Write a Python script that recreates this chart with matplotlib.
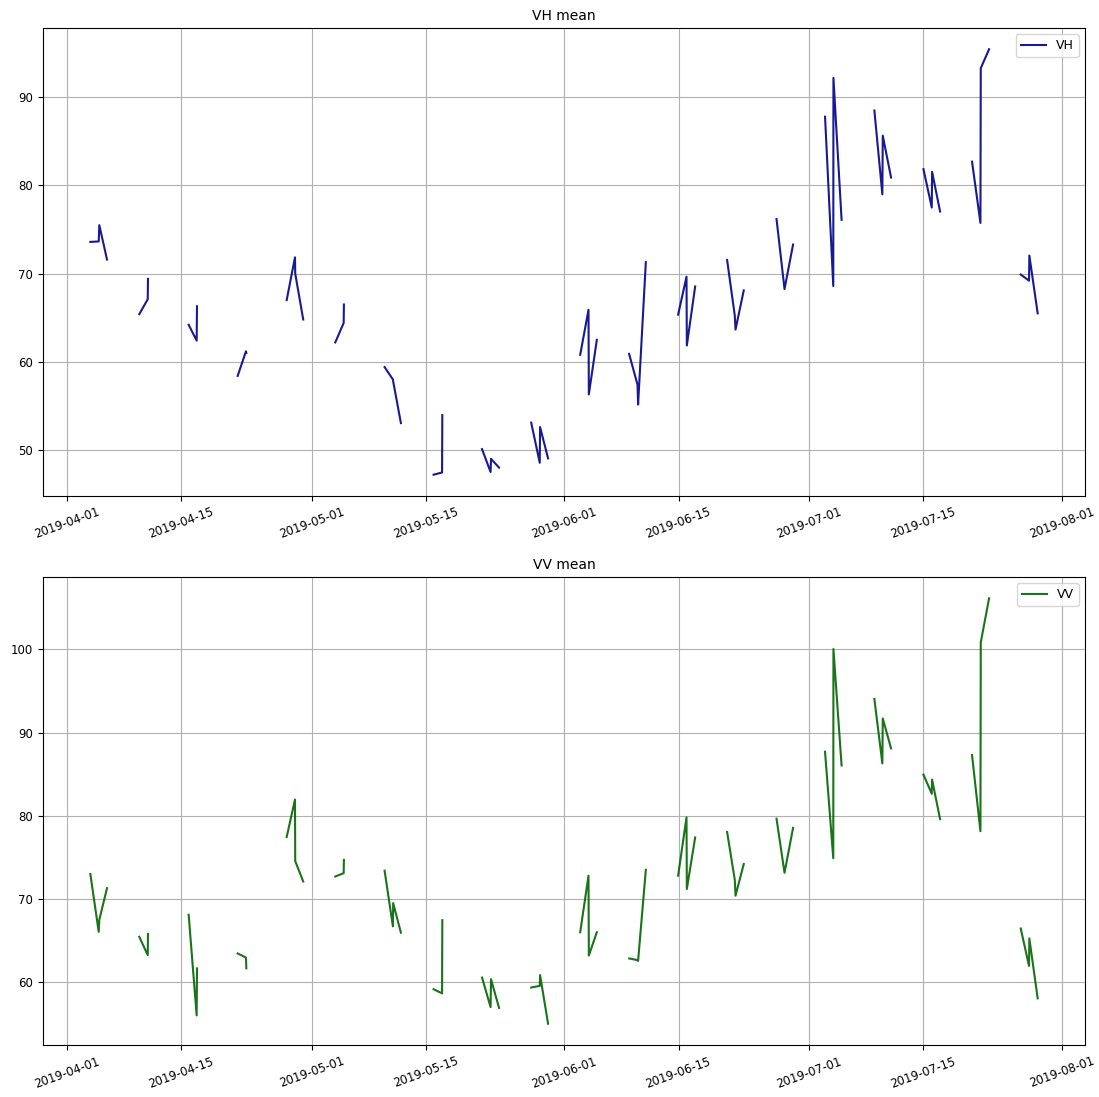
import numpy as np
import pandas as pd
import matplotlib
matplotlib.use('Agg')
import matplotlib.pyplot as plt
import matplotlib.dates as mdates

nan = np.nan

# acquisition times, NaN rows mark gaps between the acquisition bursts
times = [
    '2019-04-03 20:38', '2019-04-04 21:17', '2019-04-04 23:02', '2019-04-05 21:43', '2019-04-07',
    '2019-04-09 20:40', '2019-04-10 21:36', '2019-04-10 22:19', '2019-04-13',
    '2019-04-15 22:05', '2019-04-16 21:36', '2019-04-16 22:34', '2019-04-19',
    '2019-04-21 22:19', '2019-04-22 22:48', '2019-04-22 23:45', '2019-04-25',
    '2019-04-27 22:34', '2019-04-28 23:02', '2019-04-28 23:45', '2019-04-29 23:17', '2019-05-02',
    '2019-05-03 21:36', '2019-05-04 22:19', '2019-05-04 23:02', '2019-05-07',
    '2019-05-09 22:48', '2019-05-10 23:17', '2019-05-11 00:00', '2019-05-11 22:48', '2019-05-14',
    '2019-05-15 23:02', '2019-05-17 00:00', '2019-05-17 00:43', '2019-05-19',
    '2019-05-21 21:36', '2019-05-22 22:48', '2019-05-23 00:00', '2019-05-23 23:46', '2019-05-25',
    '2019-05-27 22:19', '2019-05-28 23:31', '2019-05-29 00:29', '2019-05-30 00:00', '2019-06-01',
    '2019-06-02 22:34', '2019-06-03 23:02', '2019-06-04 00:00', '2019-06-04 23:31', '2019-06-07',
    '2019-06-08 22:34', '2019-06-09 23:17', '2019-06-10 01:00', '2019-06-10 23:46', '2019-06-13',
    '2019-06-14 22:48', '2019-06-15 23:31', '2019-06-16 00:29', '2019-06-17 01:00', '2019-06-19',
    '2019-06-20 23:02', '2019-06-21 21:36', '2019-06-21 23:45', '2019-06-23 00:00', '2019-06-25',
    '2019-06-27 00:29', '2019-06-28 00:00', '2019-06-29 01:12', '2019-07-01',
    '2019-07-02 23:17', '2019-07-03 23:31', '2019-07-04 00:00', '2019-07-05 00:00', '2019-07-07',
    '2019-07-09 00:29', '2019-07-10 00:00', '2019-07-10 01:12', '2019-07-11 01:41', '2019-07-13',
    '2019-07-15 01:00', '2019-07-16 01:26', '2019-07-16 02:24', '2019-07-17 01:55', '2019-07-19',
    '2019-07-21 00:00', '2019-07-22 00:43', '2019-07-22 01:41', '2019-07-23 02:10', '2019-07-25',
    '2019-07-26 23:17', '2019-07-27 23:46', '2019-07-28 00:43', '2019-07-29 01:12',
]

vh = [
    73.6, 73.65, 75.5, 71.6, nan,
    65.4, 67.1, 69.4, nan,
    64.2, 62.4, 66.3, nan,
    58.4, 61.2, 61.0, nan,
    67.0, 71.85, 70.0, 64.8, nan,
    62.2, 64.4, 66.5, nan,
    59.4, 58.0, 57.8, 53.05, nan,
    47.2, 47.45, 53.95, nan,
    50.1, 47.5, 49.0, 48.0, nan,
    53.1, 48.55, 52.6, 49.05, nan,
    60.8, 65.9, 56.3, 62.5, nan,
    60.9, 57.4, 55.15, 71.3, nan,
    65.35, 69.65, 61.85, 68.55, nan,
    71.55, 65.25, 63.65, 68.1, nan,
    76.2, 68.25, 73.3, nan,
    87.8, 68.6, 92.2, 76.1, nan,
    88.5, 79.0, 85.65, 80.9, nan,
    81.85, 77.5, 81.55, 77.05, nan,
    82.7, 75.75, 93.3, 95.45, nan,
    69.9, 69.2, 72.05, 65.5,
]

vv = [
    73.0, 66.05, 67.5, 71.3, nan,
    65.45, 63.25, 65.8, nan,
    68.1, 56.0, 61.65, nan,
    63.45, 62.95, 61.65, nan,
    77.45, 81.95, 74.55, 72.1, nan,
    72.7, 73.1, 74.7, nan,
    73.4, 66.7, 69.5, 65.95, nan,
    59.15, 58.65, 67.45, nan,
    60.55, 57.0, 60.35, 56.9, nan,
    59.35, 59.55, 60.85, 55.0, nan,
    66.0, 72.8, 63.2, 66.0, nan,
    62.85, 62.65, 62.55, 73.5, nan,
    72.8, 79.8, 71.2, 77.4, nan,
    78.05, 72.3, 70.4, 74.2, nan,
    79.65, 73.15, 78.55, nan,
    87.7, 74.9, 100.05, 86.05, nan,
    94.05, 86.3, 91.7, 88.1, nan,
    84.95, 82.65, 84.35, 79.6, nan,
    87.3, 78.15, 100.85, 106.15, nan,
    66.45, 61.95, 65.25, 58.05,
]

df = pd.DataFrame({'VH': vh, 'VV': vv}, index=pd.to_datetime(times, format='mixed'))

fig = plt.figure(figsize=(10.99, 10.97), dpi=100)
ax1 = fig.add_axes([0.0391, 0.5479, 0.9482, 0.4266])
ax2 = fig.add_axes([0.0391, 0.0474, 0.9482, 0.4266])

for ax, col, color in [(ax1, 'VH', 'darkblue'), (ax2, 'VV', 'darkgreen')]:
    ax.plot(df.index, df[col], color=color, alpha=0.9, linewidth=1.5, label=col)
    ax.set_title(col + ' mean', fontsize=10)
    ax.xaxis.set_major_locator(mdates.DayLocator(bymonthday=[1, 15]))
    ax.xaxis.set_major_formatter(mdates.DateFormatter('%Y-%m-%d'))
    ax.tick_params(labelsize=8.5)
    for lbl in ax.get_xticklabels():
        lbl.set_rotation(20)
        lbl.set_ha('center')
    ax.grid(True)
    ax.legend(loc='upper right', fontsize=9)

fig.savefig('out.png', dpi=100)
